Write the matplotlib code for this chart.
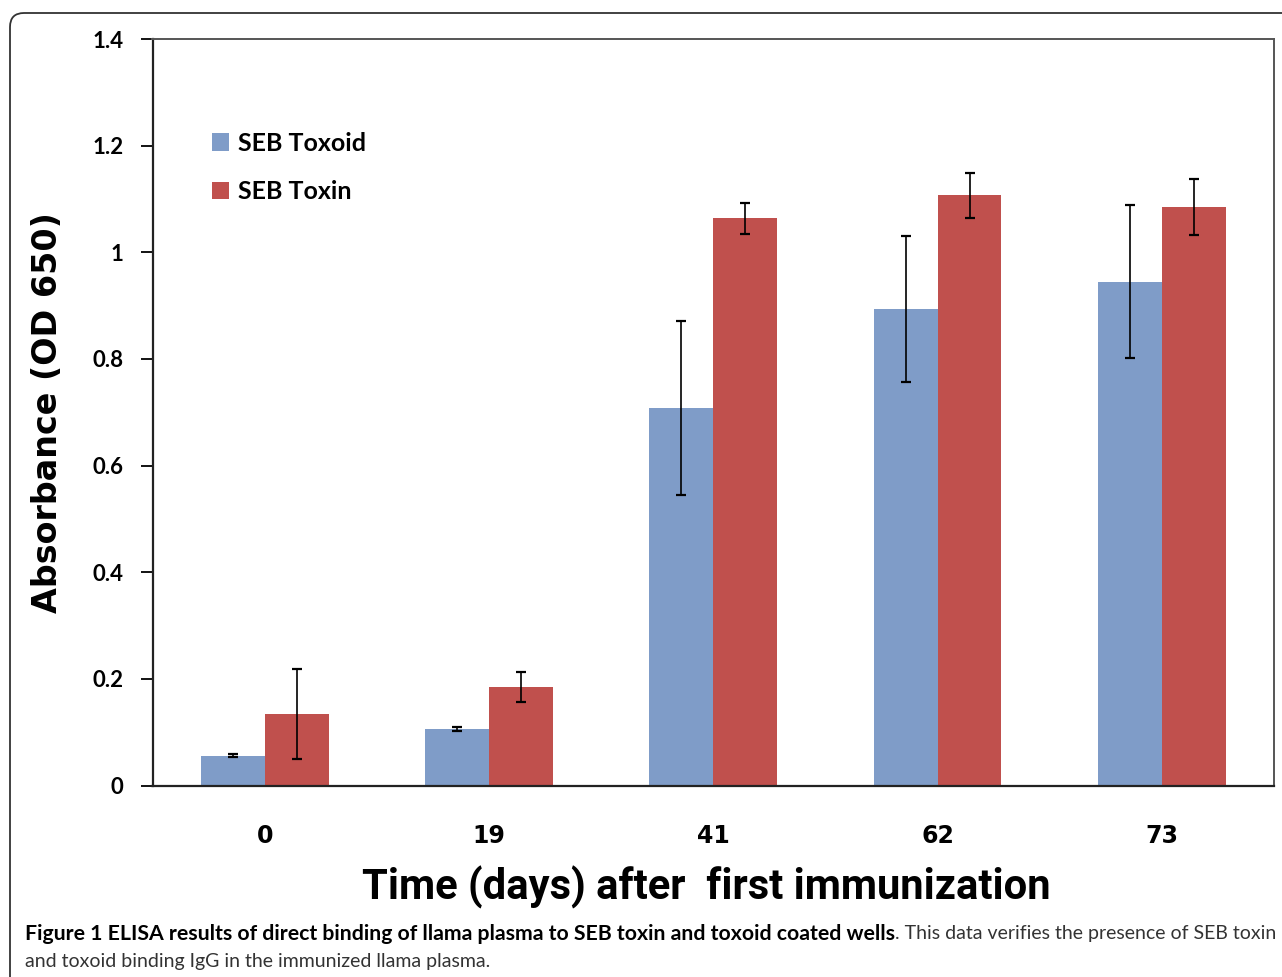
import matplotlib
matplotlib.use('Agg')
import matplotlib.pyplot as plt
import numpy as np
from matplotlib.patches import FancyBboxPatch
from matplotlib.transforms import IdentityTransform

# values
days = ['0', '19', '41', '62', '73']
toxoid = [0.056, 0.106, 0.708, 0.893, 0.945]
toxoid_err = [0.003, 0.0045, 0.163, 0.137, 0.144]
toxin = [0.134, 0.185, 1.064, 1.107, 1.085]
toxin_err = [0.085, 0.0285, 0.029, 0.042, 0.052]

blue = '#7F9CC8'
red = '#C0504D'
W, H = 1282, 977

fig = plt.figure(figsize=(W / 100, H / 100), dpi=100)
ax = fig.add_axes([152.5 / W, 1 - 785.5 / H, 1121.5 / W, 746.5 / H])


def fit(t, target):
    # scale a text so it spans target pixels
    r = fig.canvas.get_renderer()
    w = t.get_window_extent(r).width
    t.set_fontsize(t.get_fontsize() * target / w)


x = np.arange(len(days))
w = 0.285
err_kw = dict(ecolor='black', elinewidth=1.2, capsize=3.5, capthick=1.6)
ax.bar(x - w / 2, toxoid, w, yerr=toxoid_err, color=blue, label='SEB Toxoid',
       error_kw=err_kw, zorder=2)
ax.bar(x + w / 2, toxin, w, yerr=toxin_err, color=red, label='SEB Toxin',
       error_kw=err_kw, zorder=2)

ax.set_xlim(-0.5, 4.5)
ax.set_ylim(0, 1.4)
ax.set_yticks(np.arange(0, 1.41, 0.2))
ax.set_yticklabels(['0', '0.2', '0.4', '0.6', '0.8', '1', '1.2', '1.4'],
                   fontsize=16, fontweight='bold', family=['Lato', 'DejaVu Sans'])
ax.set_xticks(x)
ax.set_xticklabels(days, fontsize=17, fontweight='bold')
ax.tick_params(axis='x', length=0, pad=28)
ax.tick_params(axis='y', length=9, width=1.3, direction='out', pad=12)

for s in ['left', 'bottom']:
    ax.spines[s].set_linewidth(1.6)
    ax.spines[s].set_color('#222222')
for s in ['top', 'right']:
    ax.spines[s].set_linewidth(1.4)
    ax.spines[s].set_color('#555555')

ax.set_ylabel('Absorbance (OD 650)', fontsize=24, fontweight='bold', labelpad=20)

ax.legend(loc='upper left', bbox_to_anchor=(0.053, 0.876), frameon=False,
          prop={'family': ['Lato', 'DejaVu Sans'], 'weight': 'bold', 'size': 18},
          handlelength=0.7, handleheight=0.7, handletextpad=0.35,
          labelspacing=1.03, borderpad=0, borderaxespad=0)

# outer rounded frame
frame = FancyBboxPatch((10, -40), 1320, H - 13 + 40,
                       boxstyle='round,pad=0,rounding_size=14',
                       transform=IdentityTransform(), fill=False,
                       edgecolor='#333333', linewidth=1.3)
fig.add_artist(frame)

xlab = fig.text(706 / W, 1 - 887 / H, 'Time (days) after  first immunization',
                fontsize=30, fontweight='bold', family=['Roboto', 'DejaVu Sans'],
                ha='center', va='center')
fit(xlab, 687)

# caption
cap_font = ['Lato', 'DejaVu Sans']
cap_bold = fig.text(25 / W, 1 - 934 / H,
                    'Figure 1 ELISA results of direct binding of llama plasma to SEB toxin and toxoid coated wells',
                    fontsize=14, fontweight='bold', family=cap_font, va='center')
fit(cap_bold, 875)
bb = cap_bold.get_window_extent(fig.canvas.get_renderer())
cap_reg = fig.text(bb.x1 / W, 1 - 934 / H,
                   '. This data verifies the presence of SEB toxin',
                   fontsize=14, family=cap_font, va='center', color='#333333')
fit(cap_reg, 1277 - bb.x1)
fig.text(25 / W, 1 - 961 / H,
         'and toxoid binding IgG in the immunized llama plasma.',
         fontsize=cap_reg.get_fontsize(), family=cap_font, va='center',
         color='#333333')

fig.savefig('out.png', dpi=100)
